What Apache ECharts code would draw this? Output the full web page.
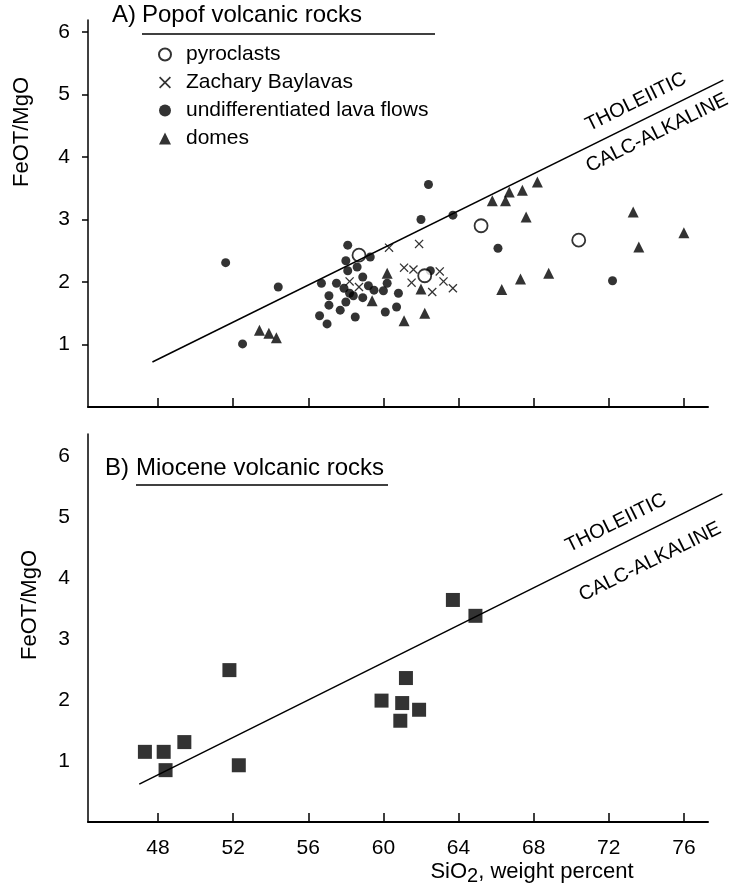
<!DOCTYPE html>
<html>
<head>
<meta charset="utf-8">
<script src="https://cdn.jsdelivr.net/npm/echarts@6/dist/echarts.min.js"></script>
<style>
  html, body { margin: 0; padding: 0; background: #fff; }
  #chart { width: 735px; height: 894px; }
</style>
</head>
<body>
<div id="chart"></div>
<script>
// SiO2 (wt %), FeOT/MgO
const pyroclasts = [[58.7, 2.43], [62.2, 2.10], [65.2, 2.90], [70.4, 2.67]];
const zacharyBaylavas = [
  [60.3, 2.55], [61.9, 2.61], [61.1, 2.23], [61.6, 2.20], [58.2, 2.01], [58.7, 1.92],
  [61.5, 1.99], [63.0, 2.17], [63.2, 2.01], [62.6, 1.84], [63.7, 1.90]
];
const lavaFlows = [
  [62.4, 3.56], [62.0, 3.00], [63.7, 3.07], [58.1, 2.59], [59.3, 2.40], [58.0, 2.34],
  [58.6, 2.24], [58.1, 2.18], [54.4, 1.92], [56.7, 1.98], [57.5, 1.98], [58.9, 2.08],
  [57.9, 1.90], [59.2, 1.94], [59.5, 1.87], [58.2, 1.82], [57.1, 1.78], [58.4, 1.78],
  [60.0, 1.86], [60.8, 1.82], [58.9, 1.75], [58.0, 1.68], [57.1, 1.63], [57.7, 1.55],
  [60.7, 1.60], [60.1, 1.52], [56.6, 1.46], [58.5, 1.44], [57.0, 1.33], [62.5, 2.18],
  [60.2, 1.98], [66.1, 2.54], [72.2, 2.02], [51.6, 2.31], [52.5, 1.01]
];
const domes = [
  [60.2, 2.14], [59.4, 1.70], [62.0, 1.89], [61.1, 1.38], [62.2, 1.50], [53.4, 1.23],
  [53.9, 1.18], [54.3, 1.11], [65.8, 3.30], [66.5, 3.30], [66.7, 3.44], [67.4, 3.47],
  [68.2, 3.60], [67.6, 3.04], [66.3, 1.88], [67.3, 2.05], [68.8, 2.14], [73.3, 3.12],
  [73.6, 2.56], [76.0, 2.79]
];
const mioceneRocks = [
  [47.3, 1.15], [48.3, 1.15], [49.4, 1.31], [48.4, 0.85], [51.8, 2.49], [52.3, 0.93],
  [63.7, 3.64], [64.9, 3.38], [61.2, 2.36], [59.9, 1.99], [61.0, 1.95], [61.9, 1.84],
  [60.9, 1.66]
];
const dividerA = [[47.7, 0.72], [78.1, 5.23]];
const dividerB = [[47.0, 0.62], [78.05, 5.38]];
const xTicks = [48, 52, 56, 60, 64, 68, 72, 76];
const yTicks = [1, 2, 3, 4, 5, 6];

const FONT = '"Liberation Sans", Arial, sans-serif';
const xPath = 'path://M0,1L1,0L5,4L9,0L10,1L6,5L10,9L9,10L5,6L1,10L0,9L4,5Z';

// px per SiO2 unit, shared by the visible axes and the wider hidden ones used for the divider lines
const X_MIN = 44.27, PX_PER_X = 18.78, PLOT_W = 620, WIDE_W = 645;

const chart = echarts.init(document.getElementById('chart'));

function xAxisFor(gridIndex, showLabels) {
  return {
    gridIndex: gridIndex,
    type: 'value',
    min: X_MIN,
    max: X_MIN + PLOT_W / PX_PER_X,
    splitLine: { show: false },
    axisLine: { lineStyle: { color: '#000', width: 2 } },
    axisTick: { inside: true, length: 9, customValues: xTicks, lineStyle: { color: '#000', width: 1.5 } },
    axisLabel: {
      show: showLabels,
      customValues: xTicks,
      color: '#000',
      fontSize: 21,
      fontFamily: FONT,
      margin: 16
    }
  };
}

function yAxisFor(gridIndex, max, ticks) {
  return {
    gridIndex: gridIndex,
    type: 'value',
    min: 0,
    max: max,
    splitLine: { show: false },
    axisLine: { lineStyle: { color: '#000', width: 1.5 } },
    axisTick: { show: ticks, length: 6, customValues: yTicks, lineStyle: { color: '#000', width: 1.5 } },
    axisLabel: {
      customValues: yTicks,
      color: '#000',
      fontSize: 21,
      fontFamily: FONT,
      margin: 18
    }
  };
}

function hiddenX(gridIndex) {
  return { gridIndex: gridIndex, type: 'value', show: false, min: X_MIN, max: X_MIN + WIDE_W / PX_PER_X };
}
function hiddenY(gridIndex, max) {
  return { gridIndex: gridIndex, type: 'value', show: false, min: 0, max: max, splitLine: { show: false } };
}

const TOP_MAX = 387 / 62.5, BOT_MAX = 388 / 61;

const option = {
  backgroundColor: '#fff',
  animation: false,
  grid: [
    { left: 88, width: PLOT_W, top: 20, height: 387 },
    { left: 88, width: PLOT_W, top: 434, height: 388 },
    { left: 88, width: WIDE_W, top: 20, height: 387 },
    { left: 88, width: WIDE_W, top: 434, height: 388 }
  ],
  xAxis: [xAxisFor(0, false), xAxisFor(1, true), hiddenX(2), hiddenX(3)],
  yAxis: [yAxisFor(0, TOP_MAX, true), yAxisFor(1, BOT_MAX, false), hiddenY(2, TOP_MAX), hiddenY(3, BOT_MAX)],
  legend: {
    orient: 'vertical',
    left: 153,
    top: 39,
    itemGap: 7,
    itemWidth: 12,
    itemHeight: 12,
    textStyle: { color: '#000', fontSize: 21, fontFamily: FONT, padding: [0, 0, 0, 10] },
    data: ['pyroclasts', 'Zachary Baylavas', 'undifferentiated lava flows', 'domes']
  },
  series: [
    {
      type: 'line', xAxisIndex: 2, yAxisIndex: 2, data: dividerA, symbol: 'none',
      lineStyle: { color: '#000', width: 1.5 }, silent: true
    },
    {
      type: 'line', xAxisIndex: 3, yAxisIndex: 3, data: dividerB, symbol: 'none',
      lineStyle: { color: '#000', width: 1.5 }, silent: true
    },
    {
      name: 'undifferentiated lava flows', type: 'scatter', xAxisIndex: 0, yAxisIndex: 0,
      data: lavaFlows, symbol: 'circle', symbolSize: 9, itemStyle: { color: '#000' }
    },
    {
      name: 'Zachary Baylavas', type: 'scatter', xAxisIndex: 0, yAxisIndex: 0,
      data: zacharyBaylavas, symbol: xPath, symbolSize: 9, itemStyle: { color: '#000' }
    },
    {
      name: 'domes', type: 'scatter', xAxisIndex: 0, yAxisIndex: 0,
      data: domes, symbol: 'triangle', symbolSize: 11, itemStyle: { color: '#000' }
    },
    {
      name: 'pyroclasts', type: 'scatter', xAxisIndex: 0, yAxisIndex: 0,
      data: pyroclasts, symbol: 'circle', symbolSize: 13,
      itemStyle: { color: '#fff', borderColor: '#000', borderWidth: 1.8 }
    },
    {
      name: 'Miocene volcanic rocks', type: 'scatter', xAxisIndex: 1, yAxisIndex: 1,
      data: mioceneRocks, symbol: 'rect', symbolSize: 14, itemStyle: { color: '#000' }
    }
  ],
  graphic: [
    { type: 'text', left: 112, top: 3, style: { text: 'A)', fontSize: 24, fontFamily: FONT, fill: '#000' } },
    { type: 'text', left: 142, top: 3, style: { text: 'Popof volcanic rocks', fontSize: 24, fontFamily: FONT, fill: '#000' } },
    { type: 'line', shape: { x1: 142, y1: 34, x2: 435, y2: 34 }, style: { stroke: '#000', lineWidth: 1.5 } },
    { type: 'text', left: 105, top: 456, style: { text: 'B)', fontSize: 24, fontFamily: FONT, fill: '#000' } },
    { type: 'text', left: 136, top: 456, style: { text: 'Miocene volcanic rocks', fontSize: 24, fontFamily: FONT, fill: '#000' } },
    { type: 'line', shape: { x1: 136, y1: 485, x2: 388, y2: 485 }, style: { stroke: '#000', lineWidth: 1.5 } },
    {
      type: 'text', x: 22, y: 132, rotation: Math.PI / 2,
      style: { text: 'FeOT/MgO', fontSize: 22, fontFamily: FONT, fill: '#000', align: 'center', verticalAlign: 'middle' }
    },
    {
      type: 'text', x: 30, y: 605, rotation: Math.PI / 2,
      style: { text: 'FeOT/MgO', fontSize: 22, fontFamily: FONT, fill: '#000', align: 'center', verticalAlign: 'middle' }
    },
    {
      type: 'text', x: 636, y: 102, rotation: 0.459,
      style: { text: 'THOLEIITIC', fontSize: 20, fontFamily: FONT, fill: '#000', align: 'center', verticalAlign: 'middle' }
    },
    {
      type: 'text', x: 657, y: 133, rotation: 0.459,
      style: { text: 'CALC-ALKALINE', fontSize: 20, fontFamily: FONT, fill: '#000', align: 'center', verticalAlign: 'middle' }
    },
    {
      type: 'text', x: 616, y: 523, rotation: 0.46,
      style: { text: 'THOLEIITIC', fontSize: 20, fontFamily: FONT, fill: '#000', align: 'center', verticalAlign: 'middle' }
    },
    {
      type: 'text', x: 650, y: 562, rotation: 0.46,
      style: { text: 'CALC-ALKALINE', fontSize: 20, fontFamily: FONT, fill: '#000', align: 'center', verticalAlign: 'middle' }
    },
    {
      type: 'text', x: 532, y: 872,
      style: {
        text: '{a|SiO}{b|2}{a|, weight percent}',
        align: 'center', verticalAlign: 'middle',
        rich: {
          a: { fontSize: 22, fontFamily: FONT, fill: '#000' },
          b: { fontSize: 20, fontFamily: FONT, fill: '#000', padding: [9, 0, 0, 0] }
        }
      }
    }
  ]
};

chart.setOption(option);
</script>
</body>
</html>
